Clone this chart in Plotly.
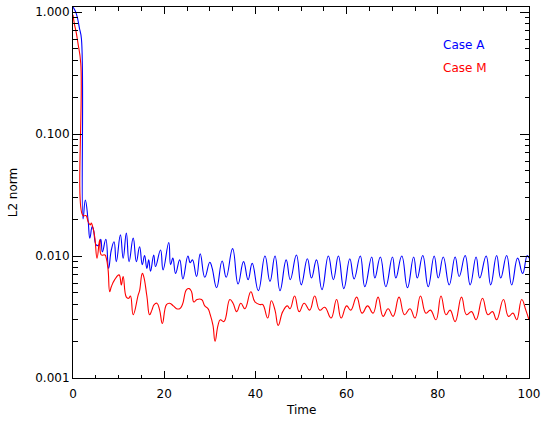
import plotly.graph_objects as go

# Case A: L2 norm versus time
time_a = [0.0, 0.5, 0.9, 1.4, 1.85, 2.2, 2.7, 3.3, 3.7, 4.2, 4.5, 5.1, 5.7, 6.1, 6.45,
          7.2, 7.8, 8.4, 9.0, 9.5, 10.4, 11.0, 11.7, 12.3, 13.2, 13.9, 14.6, 15.2,
          15.7, 16.2, 16.6, 17.0, 17.7, 18.1, 19.2, 19.75, 21.0, 21.4, 21.9, 22.5,
          23.4, 24.1, 25.2, 25.7, 26.2, 27.1, 27.9, 28.9, 30.0, 30.5, 31.5, 32.7,
          33.6, 35.0, 36.2, 37.4, 38.4, 39.3, 40.65, 42.1, 43.2, 44.3, 45.4, 46.75,
          47.65, 49.0, 50.05, 51.4, 52.3, 53.4, 54.6, 56.0, 57.1, 58.2, 59.4, 60.7,
          61.65, 63.0, 64.0, 65.5, 66.2, 67.4, 68.6, 70.05, 70.8, 72.1, 73.35, 74.7,
          75.5, 76.7, 77.9, 79.2, 80.1, 81.2, 82.5, 83.8, 84.7, 86.0, 87.1, 88.4,
          89.2, 90.6, 91.6, 92.9, 93.8, 95.1, 96.2, 97.5, 98.6, 99.6, 100.0]
l2_a = [1.10, 1.02, 0.92, 0.74, 0.60, 0.0201, 0.0288, 0.0198, 0.0140, 0.0174, 0.0164,
        0.0123, 0.0123, 0.0137, 0.0108, 0.0137, 0.0079, 0.0112, 0.0131, 0.0090,
        0.0149, 0.0096, 0.0154, 0.0090, 0.0140, 0.0090, 0.0119, 0.0085, 0.0101,
        0.0079, 0.0093, 0.0075, 0.0102, 0.0082, 0.0112, 0.0077, 0.0129, 0.0085,
        0.0096, 0.0072, 0.0093, 0.0065, 0.0100, 0.0088, 0.0093, 0.0068, 0.0104,
        0.0067, 0.0089, 0.0080, 0.0055, 0.0091, 0.0067, 0.0115, 0.0059, 0.0090,
        0.0064, 0.0087, 0.0052, 0.0100, 0.0062, 0.0100, 0.0052, 0.0093, 0.0064,
        0.0102, 0.0058, 0.0095, 0.0066, 0.0093, 0.0053, 0.0100, 0.0064, 0.0100,
        0.0054, 0.0095, 0.0065, 0.0100, 0.0056, 0.0098, 0.0066, 0.0098, 0.0056,
        0.0098, 0.0066, 0.0100, 0.0055, 0.0098, 0.0066, 0.0101, 0.0056, 0.0100,
        0.0066, 0.0098, 0.0058, 0.0098, 0.0068, 0.0101, 0.0058, 0.0098, 0.0066,
        0.0100, 0.0058, 0.0101, 0.0066, 0.0101, 0.0058, 0.0096, 0.0072, 0.0101,
        0.0096]

# Case M: L2 norm versus time
time_m = [0.0, 0.3, 0.7, 1.1, 1.7, 2.15, 2.6, 2.9, 3.3, 3.8, 4.0, 4.4, 4.8, 5.27,
          5.86, 6.2, 7.0, 7.3, 7.7, 8.05, 8.4, 9.15, 10.1, 10.6, 11.0, 11.7, 12.2,
          12.6, 13.2, 14.3, 14.6, 15.2, 15.5, 16.2, 16.8, 17.3, 17.8, 18.4, 19.0,
          19.6, 20.5, 21.2, 22.0, 22.7, 23.4, 24.0, 24.9, 25.5, 26.0, 26.5, 27.2,
          28.2, 28.9, 29.6, 30.1, 30.7, 31.15, 31.8, 32.3, 33.1, 34.4, 35.1, 35.9,
          36.8, 37.7, 39.0, 39.9, 41.0, 41.6, 42.7, 43.5, 44.3, 45.0, 46.0, 47.0,
          47.6, 48.6, 49.6, 50.7, 51.9, 53.0, 54.1, 55.2, 56.6, 57.8, 58.8, 60.0,
          60.9, 62.2, 63.4, 64.6, 65.8, 66.9, 68.0, 69.1, 70.2, 71.5, 72.7, 73.9,
          75.0, 76.2, 77.4, 78.4, 79.6, 80.7, 81.8, 82.7, 83.8, 85.2, 86.3, 87.4,
          88.4, 89.8, 91.0, 92.0, 92.9, 94.4, 95.5, 96.5, 97.3, 98.4, 99.3, 100.0]
l2_m = [0.95, 0.80, 0.68, 0.55, 0.38, 0.0215, 0.0214, 0.0214, 0.0192, 0.0180, 0.0186,
        0.0169, 0.0140, 0.0096, 0.0136, 0.0102, 0.0102, 0.0096, 0.0077, 0.0051,
        0.0056, 0.0064, 0.0070, 0.0058, 0.0068, 0.0046, 0.0045, 0.0047, 0.0033,
        0.0048, 0.0052, 0.0072, 0.0068, 0.0047, 0.0033, 0.0036, 0.0040, 0.0041,
        0.0036, 0.0028, 0.0040, 0.0041, 0.0039, 0.0037, 0.0037, 0.0040, 0.0053,
        0.0054, 0.0051, 0.0042, 0.0044, 0.0044, 0.0039, 0.0037, 0.0033, 0.0027,
        0.0020, 0.0027, 0.0030, 0.0029, 0.0044, 0.0041, 0.0035, 0.0041, 0.0037,
        0.0051, 0.0042, 0.0040, 0.0040, 0.0031, 0.0043, 0.0036, 0.0027, 0.0035,
        0.0039, 0.0037, 0.0047, 0.0035, 0.0041, 0.0036, 0.0047, 0.0036, 0.0038,
        0.0031, 0.0044, 0.0031, 0.0039, 0.0036, 0.0046, 0.0034, 0.0039, 0.0034,
        0.0046, 0.0032, 0.0037, 0.0032, 0.0046, 0.0033, 0.0037, 0.0031, 0.0047,
        0.0034, 0.0036, 0.0030, 0.0047, 0.0033, 0.0036, 0.0029, 0.0046, 0.0033,
        0.0035, 0.0030, 0.0045, 0.0033, 0.0035, 0.0030, 0.0044, 0.0032, 0.0034,
        0.0030, 0.0044, 0.0036, 0.0030]

x_ticks = [0, 20, 40, 60, 80, 100]
y_ticks = [0.001, 0.01, 0.1, 1.0]
y_tick_labels = ["0.001", "0.010", "0.100", "1.000"]
series_names = ["Case A", "Case M"]
series_colors = ["#0000ff", "#ff0000"]

FONT = "DejaVu Sans"
y_minor = [m * 10.0 ** e for e in (-3, -2, -1) for m in range(2, 10)]

fig = go.Figure()
for name, t, v, c in zip(series_names, [time_a, time_m], [l2_a, l2_m], series_colors):
    fig.add_trace(go.Scatter(x=t, y=v, mode="lines", name=name,
                             line=dict(color=c, width=1.1, shape="spline", smoothing=1.3)))

axis_common = dict(showline=True, linecolor="black", linewidth=1, mirror="ticks",
                   ticks="inside", tickcolor="black", tickwidth=1, showgrid=False,
                   zeroline=False, automargin=False,
                   tickfont=dict(family=FONT, size=12, color="black"))

fig.update_xaxes(range=[0, 100], tickmode="array", tickvals=x_ticks, ticklen=7,
                 ticklabelstandoff=5,
                 minor=dict(ticks="inside", ticklen=3.5, dtick=5, tickcolor="black",
                            showgrid=False),
                 **axis_common)
fig.update_yaxes(type="log", range=[-3, 0.041], tickmode="array", tickvals=y_ticks,
                 ticktext=y_tick_labels, ticklen=9,
                 minor=dict(ticks="inside", ticklen=4.5, tickvals=y_minor,
                            tickcolor="black", showgrid=False),
                 **axis_common)

# axis titles
fig.add_annotation(text="Time", xref="paper", yref="paper", x=0.5, y=-0.086,
                   xanchor="center", yanchor="middle", showarrow=False,
                   font=dict(family=FONT, size=12, color="black"))
fig.add_annotation(text="L2 norm", xref="paper", yref="paper", x=-0.132, y=0.5,
                   xanchor="center", yanchor="middle", textangle=-90, showarrow=False,
                   font=dict(family=FONT, size=12, color="black"))

# series labels in the upper right
for name, c, yp in zip(series_names, series_colors, [0.8976, 0.836]):
    fig.add_annotation(text=name, xref="paper", yref="paper", x=0.807, y=yp,
                       xanchor="left", yanchor="middle", showarrow=False,
                       font=dict(family=FONT, size=12, color=c))

fig.update_layout(width=541, height=423, margin=dict(l=73, r=12, t=7, b=45),
                  plot_bgcolor="white", paper_bgcolor="white", showlegend=False)

fig.write_html("out.html")
